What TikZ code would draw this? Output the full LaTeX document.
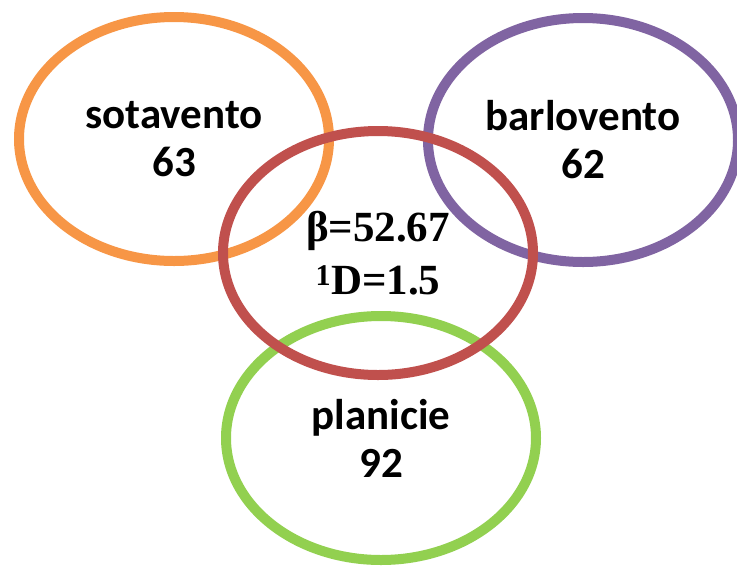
\documentclass[tikz,border=0pt]{standalone}
\usepackage{fontspec}
\setmainfont{Carlito}
\newfontfamily\timesfont{Liberation Serif}
\usepackage{xcolor}
\usetikzlibrary{shapes.geometric}
\definecolor{orangering}{HTML}{F79646}
\definecolor{purplering}{HTML}{8064A2}
\definecolor{redring}{HTML}{C0504D}
\definecolor{greenring}{HTML}{92D050}
\tikzset{
  zone/.style={ellipse,draw,line width=10pt,minimum width=310pt,minimum height=244pt,
    inner sep=0pt,align=center,font=\fontsize{43}{48}\selectfont\bfseries},
  stat/.style={font=\timesfont\fontsize{43}{53}\selectfont\bfseries},
}

\begin{document}
\begin{tikzpicture}[x=1pt,y=-1pt]
  \useasboundingbox (0,0) rectangle (737,566);
  \node[zone,draw=orangering] (sota) at (174,139) {sotavento\\63};
  \node[zone,draw=purplering] (barlo) at (583,140) {barlovento\\62};
  \node[zone,draw=greenring] (plani) at (381,438) {planicie\\92};
  \node[zone,draw=redring,stat] (centro) at (378,253) {β=52.67\\\textsuperscript{1}D=1.5};
\end{tikzpicture}
\end{document}
